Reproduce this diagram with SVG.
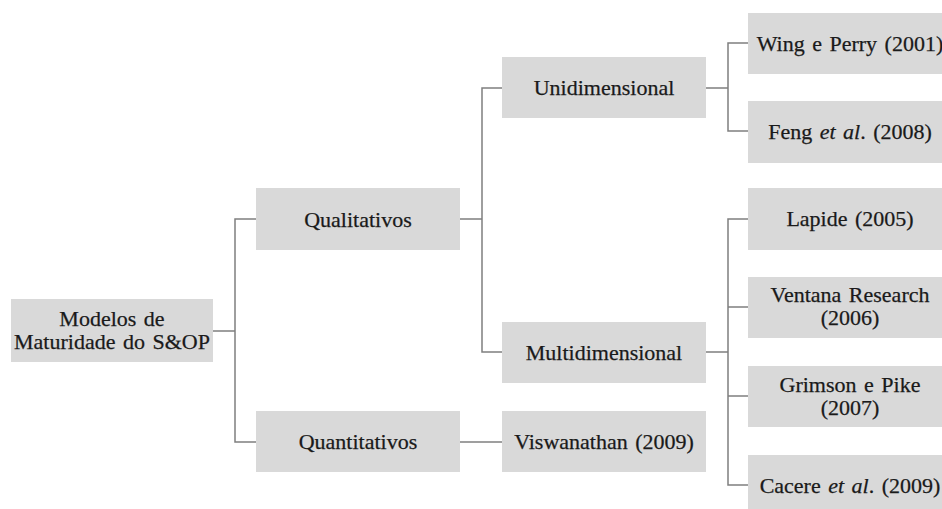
<svg xmlns="http://www.w3.org/2000/svg" width="942" height="509" viewBox="0 0 942 509">
  <style>
    .box { fill: #d9d9d9; }
    .lbl { font-family: "Liberation Serif", "Times New Roman", serif; font-size: 22px; fill: #1a1a1a; stroke: #1a1a1a; stroke-width: 0.25; text-anchor: middle; word-spacing: 2px; }
    .it { font-style: italic; }
    .wire { fill: none; stroke: #7f7f7f; stroke-width: 1.5; }
  </style>
  <rect width="942" height="509" fill="#ffffff"/>

  <g id="connectors" class="wire">
    <path d="M213 331 H235 M256 219 H235 V442 H256"/>
    <path d="M460 219 H482 M502 88 H482 V352 H502"/>
    <path d="M460 442 H502"/>
    <path d="M706 88 H728 M748 43 H728 V131 H748"/>
    <path d="M706 352 H728 M748 219 H728 V485 H748 M728 307 H748 M728 396 H748"/>
  </g>

  <g id="root">
    <rect class="box" x="11" y="299" width="202" height="63"/>
    <text class="lbl" x="112" y="326">Modelos de</text>
    <text class="lbl" x="112" y="349">Maturidade do S&amp;OP</text>
  </g>

  <g id="qualitativos">
    <rect class="box" x="256" y="188" width="204" height="62"/>
    <text class="lbl" x="358" y="227">Qualitativos</text>
  </g>

  <g id="quantitativos">
    <rect class="box" x="256" y="411" width="204" height="61"/>
    <text class="lbl" x="358" y="449">Quantitativos</text>
  </g>

  <g id="unidimensional">
    <rect class="box" x="502" y="57" width="204" height="61"/>
    <text class="lbl" x="604" y="95">Unidimensional</text>
  </g>

  <g id="multidimensional">
    <rect class="box" x="502" y="322" width="204" height="61"/>
    <text class="lbl" x="604" y="360">Multidimensional</text>
  </g>

  <g id="viswanathan">
    <rect class="box" x="502" y="411" width="204" height="61"/>
    <text class="lbl" x="604" y="449">Viswanathan (2009)</text>
  </g>

  <g id="wing-perry">
    <rect class="box" x="748" y="13" width="204" height="61"/>
    <text class="lbl" x="850" y="51">Wing e Perry (2001)</text>
  </g>

  <g id="feng">
    <rect class="box" x="748" y="101" width="204" height="62"/>
    <text class="lbl" x="850" y="139">Feng <tspan class="it">et al</tspan>. (2008)</text>
  </g>

  <g id="lapide">
    <rect class="box" x="748" y="188" width="204" height="62"/>
    <text class="lbl" x="850" y="226">Lapide (2005)</text>
  </g>

  <g id="ventana">
    <rect class="box" x="748" y="277" width="204" height="61"/>
    <text class="lbl" x="850" y="302">Ventana Research</text>
    <text class="lbl" x="850" y="325">(2006)</text>
  </g>

  <g id="grimson-pike">
    <rect class="box" x="748" y="366" width="204" height="61"/>
    <text class="lbl" x="850" y="392">Grimson e Pike</text>
    <text class="lbl" x="850" y="415">(2007)</text>
  </g>

  <g id="cacere">
    <rect class="box" x="748" y="455" width="204" height="61"/>
    <text class="lbl" x="850" y="493">Cacere <tspan class="it">et al</tspan>. (2009)</text>
  </g>
</svg>
